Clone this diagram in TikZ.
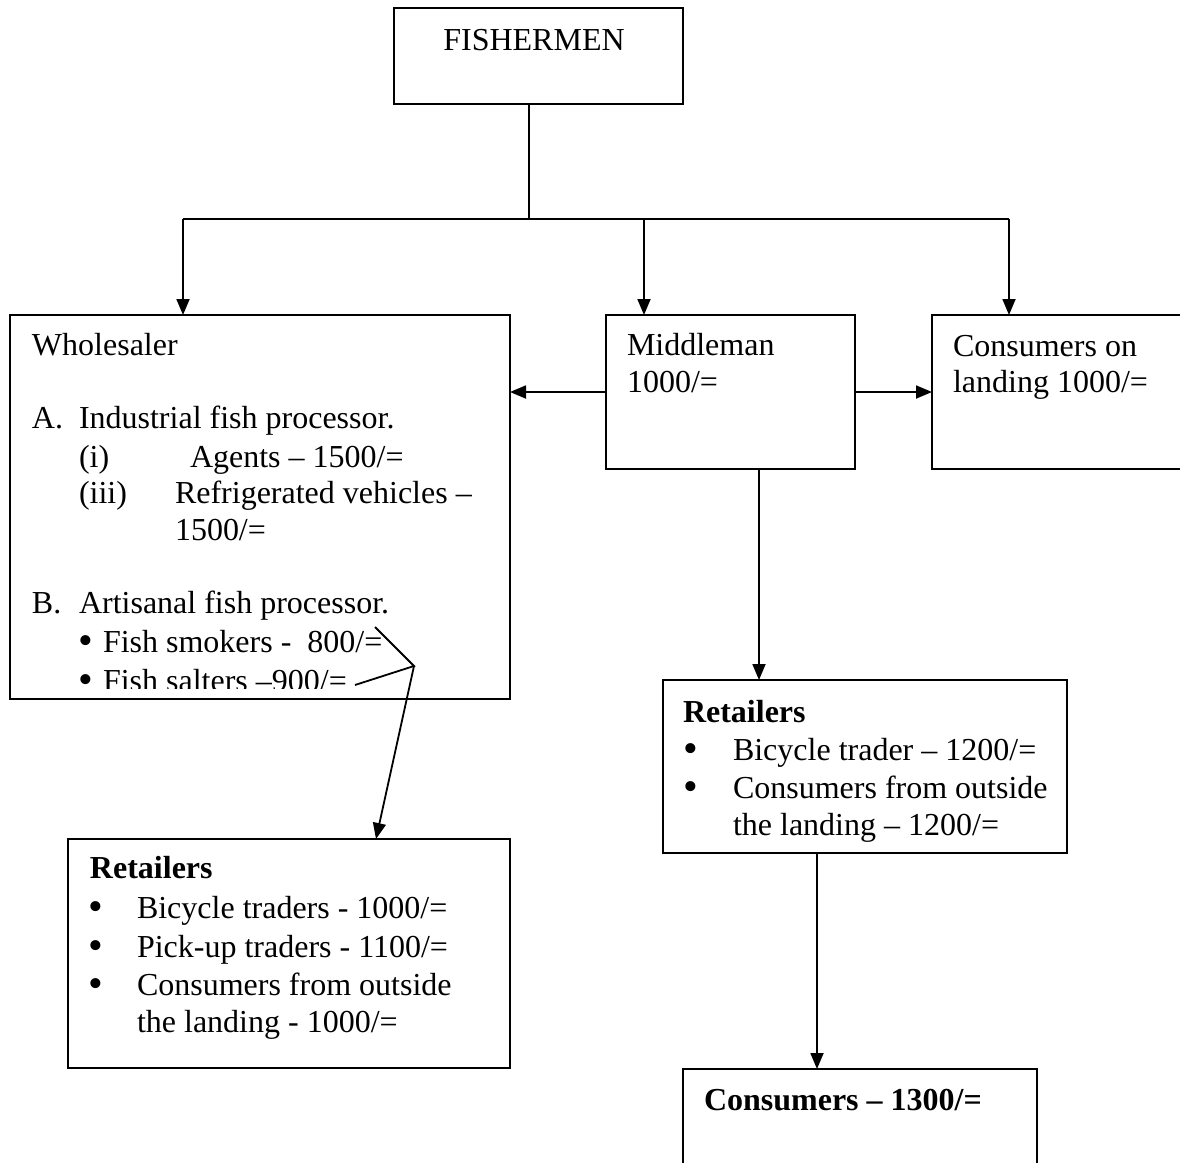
\documentclass[tikz,border=0pt]{standalone}
\usepackage{fontspec}
\setmainfont{Liberation Serif}
\usetikzlibrary{arrows.meta}
\begin{document}
\begin{tikzpicture}[x=0.5pt,y=-0.5pt,
  box/.style={draw,line width=0.9pt,rectangle,inner sep=0pt,outer sep=0pt,anchor=north west},
  txt/.style={inner sep=0pt,outer sep=0pt,anchor=base west,font=\fontsize{16pt}{18.5pt}\selectfont},
  btxt/.style={txt,font=\fontsize{16pt}{18.5pt}\selectfont\bfseries},
  bul/.style={txt,font=\fontsize{21pt}{21pt}\selectfont,text height=7pt,text depth=0pt,yshift=-1.4pt},
  link/.style={line width=0.9pt},
  arr/.style={link,-{Triangle[length=8pt,width=6.5pt]}}]
\useasboundingbox (0,0) rectangle (1180,1163);
\clip (0,0) rectangle (1180,1163);

% boxes
\node[box,minimum width=144.5pt,minimum height=48pt] (fish) at (394,8) {};
\node[box,minimum width=250pt,minimum height=192pt] (whole) at (10,315) {};
\node[box,minimum width=124.5pt,minimum height=77pt] (mid) at (606,315) {};
\node[box,minimum width=134pt,minimum height=77pt] (land) at (932,315) {};
\node[box,minimum width=202pt,minimum height=86.5pt] (retR) at (663,680) {};
\node[box,minimum width=221pt,minimum height=114.5pt] (retL) at (68,839) {};
\node[box,minimum width=177pt,minimum height=65.5pt] (cons) at (683,1069) {};

% top box
\node[txt,anchor=base] (tfish) at (534,50) {FISHERMEN};

% wholesaler
\node[txt] (tw0) at (32,355) {Wholesaler};
\node[txt] (twA) at (32,428) {A.};
\node[txt] (twA1) at (79,428) {Industrial fish processor.};
\node[txt] (twi) at (79,467) {(i)};
\node[txt] (twi1) at (190,467) {Agents – 1500/=};
\node[txt] (twiii) at (79,503) {(iii)};
\node[txt] (twiii1) at (175,503) {Refrigerated vehicles –};
\node[txt] (twiii2) at (175,540) {1500/=};
\node[txt] (twB) at (32,613) {B.};
\node[txt] (twB1) at (79,613) {Artisanal fish processor.};
\node[bul] (twb1) at (78,652) {•};
\node[txt] (twb1t) at (103,652) {Fish smokers -\ \ 800/=};
\begin{scope}
  \clip (10,315) rectangle (510,688);
  \node[bul] (twb2) at (78,691) {•};
  \node[txt] (twb2t) at (103,691) {Fish salters –900/=};
\end{scope}

% middleman and landing consumers
\node[txt] (tm1) at (627,355) {Middleman};
\node[txt] (tm2) at (627,392) {1000/=};
\node[txt] (tl1) at (953,356) {Consumers on};
\node[txt] (tl2) at (953,392) {landing 1000/=};

% retailers (right)
\node[btxt] (tr0) at (683,722) {Retailers};
\node[bul] (trb1) at (683,760) {•};
\node[txt] (tr1) at (733,760) {Bicycle trader – 1200/=};
\node[bul] (trb2) at (683,798) {•};
\node[txt] (tr2) at (733,798) {Consumers from outside};
\node[txt] (tr3) at (733,835) {the landing – 1200/=};

% retailers (left)
\node[btxt] (tL0) at (90,878) {Retailers};
\node[bul] (tLb1) at (88,918) {•};
\node[txt] (tL1) at (137,918) {Bicycle traders - 1000/=};
\node[bul] (tLb2) at (88,957) {•};
\node[txt] (tL2) at (137,957) {Pick-up traders - 1100/=};
\node[bul] (tLb3) at (88,995) {•};
\node[txt] (tL3) at (137,995) {Consumers from outside};
\node[txt] (tL4) at (137,1032) {the landing - 1000/=};

% final consumers
\node[btxt] (tc) at (704,1110) {Consumers – 1300/=};

% connectors
\coordinate (jn) at (529,219);
\coordinate (jl) at (183,219);
\coordinate (jm) at (644,219);
\coordinate (jr) at (1009,219);
\draw[link] (fish.south -| jn) -- (jn);
\draw[link] (jl) -- (jr);
\draw[arr] (jl) -- (jl |- whole.north);
\draw[arr] (jm) -- (jm |- mid.north);
\draw[arr] (jr) -- (jr |- land.north);
\coordinate (my) at (0,392);
\draw[arr] (mid.west |- my) -- (whole.east |- my);
\draw[arr] (mid.east |- my) -- (land.west |- my);
\coordinate (md) at (759,0);
\draw[arr] (mid.south -| md) -- (retR.north -| md);
\coordinate (rd) at (817,0);
\draw[arr] (retR.south -| rd) -- (cons.north -| rd);
\coordinate (s1) at (375,627);
\coordinate (s2) at (355,685);
\coordinate (apex) at (414,666);
\coordinate (tipL) at (376,0);
\draw[link] (s1) -- (apex) -- (s2);
\draw[arr] (apex) -- (retL.north -| tipL);
\end{tikzpicture}
\end{document}
